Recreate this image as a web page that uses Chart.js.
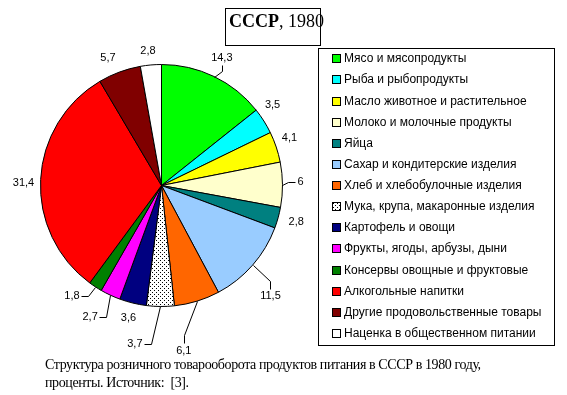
<!DOCTYPE html>
<html><head><meta charset="utf-8">
<script src="https://cdn.jsdelivr.net/npm/chart.js@4/dist/chart.umd.min.js"></script>
<style>
html,body{margin:0;padding:0;background:#fff;}
#wrap{position:relative;width:567px;height:395px;overflow:hidden;background:#fff;}
#c{position:absolute;left:0;top:0;}
#title{position:absolute;left:225px;top:8px;width:96px;height:38px;border:1px solid #000;box-sizing:border-box;font-family:"Liberation Serif",serif;font-size:18px;line-height:18px;padding:3px 0 0 3px;white-space:nowrap;}
#legend{position:absolute;left:318px;top:48px;width:237px;height:298px;border:1px solid #000;box-sizing:border-box;font-family:"Liberation Sans",Arial,sans-serif;font-size:12px;}
.item{position:absolute;left:0;height:14px;line-height:14px;white-space:nowrap;}
.sw{position:absolute;left:13px;top:3px;width:9px;height:9px;border:1px solid #000;box-sizing:border-box;}
.tx{position:absolute;left:25px;top:0;}
#caption{position:absolute;left:45px;top:356px;font-family:"Liberation Serif",serif;font-size:14px;line-height:18px;white-space:nowrap;letter-spacing:-0.4px;}
</style>
</head><body>
<div id="wrap">
<canvas id="c" width="567" height="395"></canvas>
<div id="title"><b>СССР</b>, 1980</div>
<div id="legend"></div>
<div id="caption">Структура розничного товарооборота продуктов питания в СССР в 1980 году,<br>проценты. Источник:&nbsp; [3].</div>
</div>
<script>
const categories = [
  'Мясо и мясопродукты',
  'Рыба и рыбопродукты',
  'Масло животное и растительное',
  'Молоко и молочные продукты',
  'Яйца',
  'Сахар и кондитерские изделия',
  'Хлеб и хлебобулочные изделия',
  'Мука, крупа, макаронные изделия',
  'Картофель и овощи',
  'Фрукты, ягоды, арбузы, дыни',
  'Консервы овощные и фруктовые',
  'Алкогольные напитки',
  'Другие продовольственные товары',
  'Наценка в общественном питании'
];
const values = [14.3, 3.5, 4.1, 6, 2.8, 11.5, 6.1, 3.7, 3.6, 2.7, 1.8, 31.4, 5.7, 2.8];
const valueLabels = ['14,3','3,5','4,1','6','2,8','11,5','6,1','3,7','3,6','2,7','1,8','31,4','5,7','2,8'];
const sliceColors = ['#00FF00','#00FFFF','#FFFF00','#FFFFCC','#008080','#99CCFF','#FF6600','DOTS','#000080','#FF00FF','#008000','#FF0000','#800000','#FFFFFF'];

// label layout (extra radial distance px, angle nudge deg, leader line)
const labelLayout = [
  [20.5,-0.5,true],[16,-3.6,false],[15.5,-1.8,false],[18,-1,true],[18.5,-0.4,false],
  [34.5,4.3,true],[45.5,9.4,true],[39.5,9,true],[16,0.3,false],[29,3.4,true],
  [21.5,5.8,true],[17,-1.9,false],[17,-2.5,false],[14.5,-0.7,false]
];

// dotted pattern
const pc = document.createElement('canvas');
pc.width = 4; pc.height = 4;
const pctx = pc.getContext('2d');
pctx.fillStyle = '#fff'; pctx.fillRect(0,0,4,4);
pctx.fillStyle = '#000';
pctx.fillRect(0,0,1,1); pctx.fillRect(2,2,1,1);
const ctx0 = document.getElementById('c').getContext('2d');
const dotPattern = ctx0.createPattern(pc, 'repeat');
const fills = sliceColors.map(c => c === 'DOTS' ? dotPattern : c);

// legend
const lg = document.getElementById('legend');
categories.forEach((name, i) => {
  const it = document.createElement('div');
  it.className = 'item';
  it.style.top = (2.3 + i * 21.13) + 'px';
  const sw = document.createElement('div');
  sw.className = 'sw';
  if (sliceColors[i] === 'DOTS') {
    sw.style.backgroundImage = 'url(' + pc.toDataURL() + ')';
  } else {
    sw.style.background = sliceColors[i];
  }
  const tx = document.createElement('div');
  tx.className = 'tx';
  tx.textContent = name;
  it.appendChild(sw); it.appendChild(tx);
  lg.appendChild(it);
});

const labelPlugin = {
  id: 'outLabels',
  afterDatasetsDraw(chart) {
    const ctx = chart.ctx;
    const meta = chart.getDatasetMeta(0);
    ctx.save();
    ctx.font = '11px "Liberation Sans", Arial, sans-serif';
    ctx.fillStyle = '#000';
    ctx.strokeStyle = '#000';
    ctx.lineWidth = 1;
    ctx.textAlign = 'center';
    ctx.textBaseline = 'middle';
    meta.data.forEach((arc, i) => {
      const p = arc.getProps(['x','y','startAngle','endAngle','outerRadius'], true);
      const mid = (p.startAngle + p.endAngle) / 2;
      const [dr, da, leader] = labelLayout[i];
      const a = mid + da * Math.PI / 180;
      const rr = p.outerRadius + dr;
      const cx = p.x + rr * Math.cos(a);
      const cy = p.y + rr * Math.sin(a);
      const txt = valueLabels[i];
      const w = ctx.measureText(txt).width;
      const h = 10;
      ctx.fillText(txt, cx, cy);
      if (leader) {
        const px = p.x + p.outerRadius * Math.cos(mid);
        const py = p.y + p.outerRadius * Math.sin(mid);
        const c = Math.cos(a);
        let tx, ty, ex, ey;
        if (c < 0) { tx = cx + w/2 + 1; ty = cy; ex = tx + 7; ey = ty; }
        else if (c > 0.9) { tx = cx - w/2 - 2; ty = cy; ex = tx - 7; ey = ty; }
        else if (Math.sin(a) > 0) { tx = cx; ty = cy - h/2 - 2; ex = tx; ey = ty - 8; }
        else { tx = cx; ty = cy + h/2 + 2; ex = tx; ey = ty + 6; }
        ctx.beginPath();
        ctx.moveTo(Math.round(px)+0.5, Math.round(py)+0.5);
        ctx.lineTo(Math.round(ex)+0.5, Math.round(ey)+0.5);
        ctx.lineTo(Math.round(tx)+0.5, Math.round(ty)+0.5);
        ctx.stroke();
      }
    });
    ctx.restore();
  }
};

new Chart(document.getElementById('c'), {
  type: 'pie',
  data: {
    labels: categories,
    datasets: [{
      data: values,
      backgroundColor: fills,
      borderColor: '#000',
      borderWidth: 1
    }]
  },
  options: {
    responsive: false,
    animation: false,
    devicePixelRatio: 1,
    layout: { padding: { left: 40, right: 284, top: 64, bottom: 88 } },
    plugins: { legend: { display: false }, tooltip: { enabled: false }, title: { display: false } }
  },
  plugins: [labelPlugin]
});
</script>
</body></html>
